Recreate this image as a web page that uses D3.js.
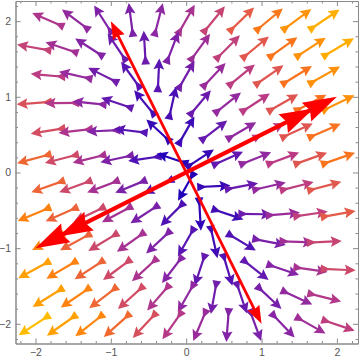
<!DOCTYPE html>
<html><head><meta charset="utf-8">
<script src="https://cdn.jsdelivr.net/npm/d3@7"></script>
<style>html,body{margin:0;padding:0;background:#fff;}svg{display:block;}</style>
</head><body>
<svg id="chart" width="360" height="361"></svg>
<script>
// ---- data ----
const systemMatrix = [[2.6, 0.8], [0.8, 1.4]];           // linear system x' = A x
const rowY = [2.017, 1.65, 1.283, 0.917, 0.55, 0.183, -0.183, -0.55, -0.917, -1.283, -1.65, -2.017];
const colXEven = [-1.833, -1.467, -1.1, -0.733, -0.367, 0, 0.367, 0.733, 1.1, 1.467, 1.833];
const colXOdd = [-2.017, -1.65, -1.283, -0.917, -0.55, -0.183, 0.183, 0.55, 0.917, 1.283, 1.65, 2.017];
const eigenTips = [[2, 1], [-2, -1], [-1, 2], [1, -2]];
const eigenKinds = ["thick", "thick", "thin", "thin"];
const majorTicks = [-2, -1, 0, 1, 2];
const tickLabels = ["\u22122", "\u22121", "0", "1", "2"];
const minorTicks = d3.range(-22, 23, 2).map(v => v / 10).filter(v => Math.abs(v - Math.round(v)) > 1e-9);
const colorStops = ["#2200b8", "#5414b4", "#8a26a4", "#b83a86", "#e2584c", "#ff7a12", "#ff9c04", "#ffbc00"];

// ---- layout ----
const svg = d3.select("#chart");
const L = 15.5, R = 358, T = 1, B = 343.5;
const x = d3.scaleLinear().domain([-2.265, 2.28]).range([L, R]);
const y = d3.scaleLinear().domain([-2.26, 2.266]).range([B, T]);

// field points
const pts = [];
rowY.forEach((yy, i) => {
  const cols = i % 2 === 0 ? colXEven : colXOdd;
  cols.forEach(xx => {
    const u = systemMatrix[0][0] * xx + systemMatrix[0][1] * yy;
    const v = systemMatrix[1][0] * xx + systemMatrix[1][1] * yy;
    pts.push({x: xx, y: yy, u, v, m: Math.hypot(u, v)});
  });
});
const mExt = d3.extent(pts, d => d.m);
const tScale = d3.scaleLinear().domain(mExt).range([0, 1]);
const color = d3.scaleLinear()
  .domain(colorStops.map((c, i) => i / (colorStops.length - 1)))
  .range(colorStops).interpolate(d3.interpolateRgb);

const gField = svg.append("g");
pts.forEach(p => {
  const t = tScale(p.m);
  const len = 33 + 4 * t;
  const cx = x(p.x), cy = y(p.y);
  const a = Math.atan2(y(p.y + p.v * 0.01) - cy, x(p.x + p.u * 0.01) - cx);
  const c = color(t);
  const g = gField.append("g").attr("transform", `translate(${cx},${cy}) rotate(${a * 180 / Math.PI})`);
  const h = len / 2;
  g.append("line").attr("x1", -h + 2).attr("x2", h - 8).attr("y1", 0).attr("y2", 0)
    .attr("stroke", c).attr("stroke-width", 2.2);
  g.append("path").attr("d", `M${h},0 L${h - 11},${-5.4} L${h - 9},0 L${h - 11},${5.4} Z`).attr("fill", c);
  g.append("path").attr("d", `M${-h},${-4.4} L${-h + 9.5},0 L${-h},${4.4} Z`).attr("fill", c);
});

// eigenvector arrows
const gEig = svg.append("g");
eigenTips.forEach((tip, i) => {
  const x0 = x(0), y0 = y(0), x1 = x(tip[0]), y1 = y(tip[1]);
  const a = Math.atan2(y1 - y0, x1 - x0);
  const len = Math.hypot(x1 - x0, y1 - y0);
  const g = gEig.append("g").attr("transform", `translate(${x0},${y0}) rotate(${a * 180 / Math.PI})`);
  if (eigenKinds[i] === "thick") {
    g.append("line").attr("x1", 0).attr("x2", len - 20).attr("y1", 0).attr("y2", 0)
      .attr("stroke", "#ff0000").attr("stroke-width", 4.2);
    g.append("path").attr("d", `M${len},0 L${len - 34},${-10.5} L${len - 30},0 L${len - 34},${10.5} Z`).attr("fill", "#ff0000");
    g.append("path").attr("d", `M${len - 26},0 L${len - 60},${-10.5} L${len - 56},0 L${len - 60},${10.5} Z`).attr("fill", "#ff0000");
  } else {
    g.append("line").attr("x1", 0).attr("x2", len - 10).attr("y1", 0).attr("y2", 0)
      .attr("stroke", "#ff0000").attr("stroke-width", 2.8);
    g.append("path").attr("d", `M${len},0 L${len - 18},${-6.5} L${len - 16},0 L${len - 18},${6.5} Z`).attr("fill", "#ff0000");
  }
});

// frame & ticks
const frameColor = "#8a8a8a";
function styleAxis(g) {
  g.select(".domain").attr("stroke", frameColor).attr("stroke-width", 1);
  g.selectAll(".tick line").attr("stroke", frameColor);
  g.selectAll(".tick text").attr("fill", "#555").style("font-family", "Liberation Sans, Arial, sans-serif").style("font-size", "10.5px");
}
const fmt = (d) => tickLabels[majorTicks.indexOf(d)];
svg.append("g").attr("transform", `translate(0,${B})`)
  .call(d3.axisBottom(x).tickValues(majorTicks).tickFormat(fmt).tickSizeInner(-5).tickSizeOuter(0).tickPadding(5)).call(styleAxis);
svg.append("g").attr("transform", `translate(0,${B})`)
  .call(d3.axisBottom(x).tickValues(minorTicks).tickFormat("").tickSizeInner(-2.5).tickSizeOuter(0)).call(styleAxis);
svg.append("g").attr("transform", `translate(${L},0)`)
  .call(d3.axisLeft(y).tickValues(majorTicks).tickFormat(fmt).tickSizeInner(-5).tickSizeOuter(0).tickPadding(4.5)).call(styleAxis);
svg.append("g").attr("transform", `translate(${L},0)`)
  .call(d3.axisLeft(y).tickValues(minorTicks).tickFormat("").tickSizeInner(-2.5).tickSizeOuter(0)).call(styleAxis);
svg.append("g").attr("transform", `translate(0,${T})`)
  .call(d3.axisTop(x).tickValues(majorTicks).tickFormat("").tickSizeInner(-5).tickSizeOuter(0)).call(styleAxis);
svg.append("g").attr("transform", `translate(0,${T})`)
  .call(d3.axisTop(x).tickValues(minorTicks).tickFormat("").tickSizeInner(-2.5).tickSizeOuter(0)).call(styleAxis);
svg.append("g").attr("transform", `translate(${R},0)`)
  .call(d3.axisRight(y).tickValues(majorTicks).tickFormat("").tickSizeInner(-5).tickSizeOuter(0)).call(styleAxis);
svg.append("g").attr("transform", `translate(${R},0)`)
  .call(d3.axisRight(y).tickValues(minorTicks).tickFormat("").tickSizeInner(-2.5).tickSizeOuter(0)).call(styleAxis);
</script>
</body></html>
